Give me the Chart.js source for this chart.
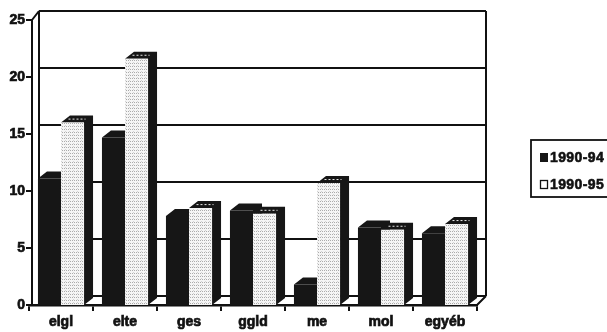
<!DOCTYPE html>
<html>
<head>
<meta charset="utf-8">
<script src="https://cdn.jsdelivr.net/npm/chart.js@4/dist/chart.umd.min.js"></script>
<style>
  html, body { margin: 0; padding: 0; background: #fff; }
  canvas { display: block; }
</style>
</head>
<body>
<canvas id="c" width="607" height="332"></canvas>
<script>
// Categories and the two series
const categories = ['elgl', 'elte', 'ges', 'ggld', 'me', 'mol', 'egyéb'];
const seriesNames = ['1990-94', '1990-95'];
const values9094 = [11.1, 14.7, 7.8, 8.3, 1.8, 6.8, 6.3];
const values9095 = [16.0, 21.6, 8.5, 8.0, 10.7, 6.6, 7.1];
const yTickValues = [0, 5, 10, 15, 20, 25];

const INK = '#111';
const DARK = '#161616';
const FONT = "'Liberation Sans', Arial, sans-serif";

const canvas = document.getElementById('c');
const ctx0 = canvas.getContext('2d');

// light grey stippled fill for the second series
function stipple() {
  const p = document.createElement('canvas');
  p.width = 4; p.height = 3;
  const g = p.getContext('2d');
  g.fillStyle = '#f5f5f5'; g.fillRect(0, 0, 4, 3);
  g.fillStyle = '#ababab'; g.fillRect(0, 0, 1, 1); g.fillRect(2, 0, 1, 1);
  g.fillStyle = '#d4d4d4'; g.fillRect(1, 2, 1, 1);
  return ctx0.createPattern(p, 'repeat');
}
const LIGHT = stipple();

// depth offsets for the back wall and for the columns
const WALL = { dx: 7, dy: 9 };
const BAR = { dx: 9, dy: 7 };

const depth3d = {
  id: 'depth3d',
  beforeDatasetsDraw(chart) {
    const { ctx, chartArea: a, scales: { y } } = chart;
    const frontX = a.left + 3;
    const backL = frontX + WALL.dx;
    const backR = a.right + 9;
    const yb = v => y.getPixelForValue(v) - WALL.dy;
    ctx.save();
    ctx.strokeStyle = INK;
    ctx.lineWidth = 2;
    ctx.beginPath();
    yTickValues.forEach(v => { ctx.moveTo(backL, yb(v)); ctx.lineTo(backR, yb(v)); });
    ctx.moveTo(backL, yb(0)); ctx.lineTo(backL, yb(25));
    ctx.moveTo(backR, yb(0)); ctx.lineTo(backR, yb(25));
    ctx.moveTo(a.right, y.getPixelForValue(0)); ctx.lineTo(backR, yb(0));
    ctx.stroke();

    // side and top faces of every column
    chart.data.datasets.forEach((ds, i) => {
      const meta = chart.getDatasetMeta(i);
      meta.data.forEach(el => {
        const { x, y: top, base, width } = el.getProps(['x', 'y', 'base', 'width'], true);
        const x1 = x - width / 2, x2 = x + width / 2;
        ctx.fillStyle = DARK;
        ctx.beginPath();
        ctx.moveTo(x2, base);
        ctx.lineTo(x2 + BAR.dx, base - BAR.dy);
        ctx.lineTo(x2 + BAR.dx, top - BAR.dy);
        ctx.lineTo(x1 + BAR.dx, top - BAR.dy);
        ctx.lineTo(x1, top);
        ctx.lineTo(x2, top);
        ctx.closePath();
        ctx.fill();
        if (i === 1) {
          ctx.save();
          ctx.strokeStyle = '#e8e8e8';
          ctx.lineWidth = 1;
          ctx.setLineDash([2, 2]);
          ctx.beginPath();
          const my = top - BAR.dy / 2;
          ctx.moveTo(x1 + BAR.dx / 2 + 3, my);
          ctx.lineTo(x2 + BAR.dx / 2 - 3, my);
          ctx.stroke();
          ctx.restore();
        }
      });
    });
    ctx.restore();
  },
  afterDatasetsDraw(chart) {
    const { ctx, chartArea: a, scales: { y } } = chart;
    const frontX = a.left + 3;
    ctx.save();
    ctx.strokeStyle = INK;
    ctx.lineWidth = 2;
    ctx.beginPath();
    ctx.moveTo(frontX, y.getPixelForValue(0));
    ctx.lineTo(frontX, y.getPixelForValue(25));
    ctx.lineTo(frontX + WALL.dx, y.getPixelForValue(25) - WALL.dy);
    yTickValues.forEach(v => {
      ctx.moveTo(frontX - 6, y.getPixelForValue(v));
      ctx.lineTo(frontX, y.getPixelForValue(v));
    });
    ctx.stroke();
    ctx.restore();
  },
  afterDraw(chart) {
    // legend box at the right
    const { ctx, chartArea: a } = chart;
    const bx = a.right + 54, by = 140, bw = 90, bh = 57;
    ctx.save();
    ctx.strokeStyle = INK;
    ctx.lineWidth = 1.8;
    ctx.strokeRect(bx, by, bw, bh);
    ctx.font = 'bold 14px ' + FONT;
    ctx.letterSpacing = '0.4px';
    ctx.textBaseline = 'middle';
    ctx.lineWidth = 0.6;
    const rows = [by + 17, by + 44];
    chart.data.datasets.forEach((ds, i) => {
      const cy = rows[i];
      ctx.strokeStyle = INK;
      if (i === 0) {
        ctx.fillStyle = DARK;
        ctx.fillRect(bx + 9, cy - 4, 8, 9);
      } else {
        ctx.fillStyle = '#fff';
        ctx.fillRect(bx + 9, cy - 4, 8, 9);
        ctx.save();
        ctx.lineWidth = 1.3;
        ctx.strokeRect(bx + 9.5, cy - 3.5, 7, 8);
        ctx.restore();
      }
      ctx.fillStyle = INK;
      ctx.fillText(ds.label, bx + 19, cy + 1);
      ctx.strokeText(ds.label, bx + 19, cy + 1);
    });
    ctx.restore();
  }
};

const tickFont = { family: FONT, size: 14, weight: 'bold' };

new Chart(canvas, {
  type: 'bar',
  data: {
    labels: categories,
    datasets: [
      { label: seriesNames[0], data: values9094, backgroundColor: DARK, borderWidth: 0 },
      { label: seriesNames[1], data: values9095, backgroundColor: LIGHT, borderWidth: 0 }
    ]
  },
  options: {
    responsive: false,
    animation: false,
    events: [],
    layout: { padding: { top: 20, right: 130, bottom: 0, left: 0 } },
    datasets: { bar: { categoryPercentage: 0.72, barPercentage: 1 } },
    plugins: { legend: { display: false }, tooltip: { enabled: false } },
    scales: {
      x: {
        afterFit: s => { s.height = 27; },
        grid: { offset: true, drawOnChartArea: false, tickLength: 6, color: INK, lineWidth: 2 },
        border: { display: true, color: INK, width: 2.4 },
        ticks: { color: INK, font: tickFont, padding: 3, autoSkip: false, maxRotation: 0,
                 textStrokeColor: INK, textStrokeWidth: 0.7 }
      },
      y: {
        min: 0, max: 25,
        afterFit: s => { s.width = 29; },
        afterBuildTicks: s => { s.ticks = yTickValues.map(v => ({ value: v })); },
        grid: { display: false, drawTicks: false },
        border: { display: false },
        ticks: { color: INK, font: tickFont, padding: 4,
                 textStrokeColor: INK, textStrokeWidth: 0.7 }
      }
    }
  },
  plugins: [depth3d]
});
</script>
</body>
</html>
